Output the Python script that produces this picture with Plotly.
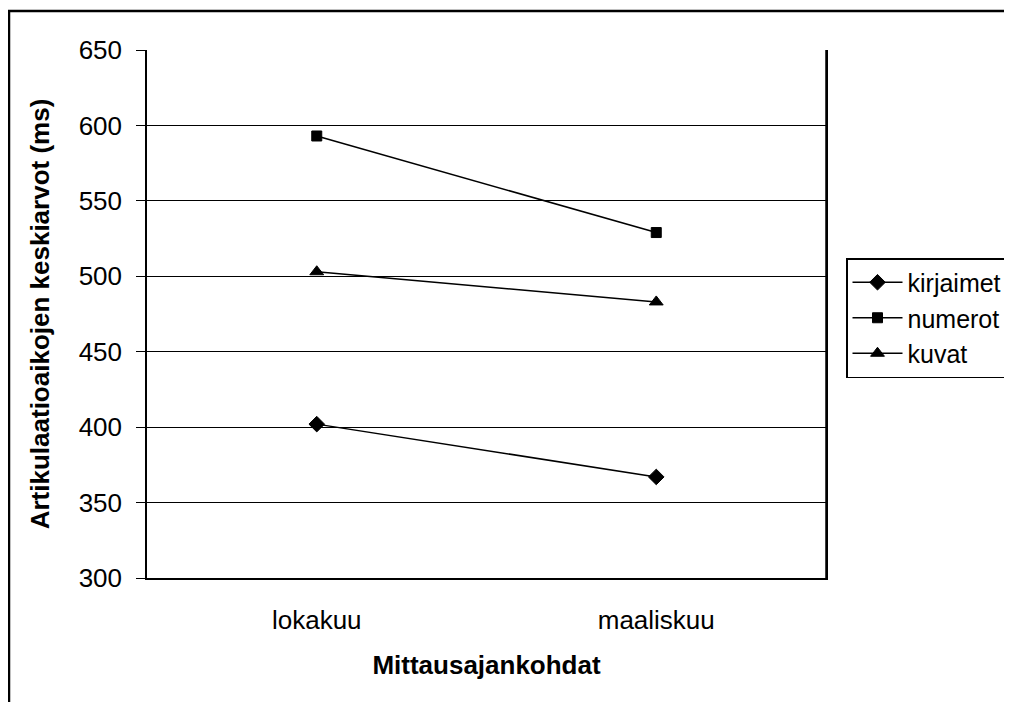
import plotly.graph_objects as go

categories = ["lokakuu", "maaliskuu"]
kirjaimet = [402, 367]
numerot = [593, 529]
kuvat = [503, 483]
y_ticks = [300, 350, 400, 450, 500, 550, 600, 650]

OFF = 8  # page body margin
W, H = 1012 - OFF, 702 - OFF
L, R, T, B = 147 - OFF, 826 - OFF, 50 - OFF, 578 - OFF

def px(x):
    return (x - OFF - L) / (R - L)

def py(y):
    return (B - (y - OFF)) / (B - T)

fig = go.Figure()
series = [
    ("kirjaimet", kirjaimet, "diamond", 12),
    ("numerot", numerot, "square", 10),
    ("kuvat", kuvat, "triangle-up", 12),
]
for name, vals, sym, size in series:
    fig.add_trace(go.Scatter(
        x=categories, y=vals, name=name, mode="lines+markers",
        line=dict(color="black", width=1.5),
        marker=dict(symbol=sym, size=size, color="black",
                    line=dict(color="black", width=1)),
    ))

FS = 26
font = dict(family="Liberation Sans, Arial, sans-serif", size=FS, color="black")
lfont = dict(family="Liberation Sans, Arial, sans-serif", size=25, color="black")

fig.update_layout(
    width=W, height=H,
    margin=dict(l=L, r=W - R, t=T, b=H - B, autoexpand=False),
    paper_bgcolor="white", plot_bgcolor="white",
    font=font,
    showlegend=True,
    legend=dict(
        x=px(846), y=py(258), xanchor="left", yanchor="top",
        bordercolor="black", borderwidth=1.5,
        font=lfont, tracegroupgap=0, itemwidth=50,
    ),
    xaxis=dict(
        type="category", range=[-0.5, 1.5],
        showline=True, linecolor="black", linewidth=2, mirror=False,
        showgrid=False, ticks="", ticklen=0, ticklabelstandoff=18,
        tickfont=font,
        title=dict(text="<b>Mittausajankohdat</b>", font=font, standoff=22),
    ),
    yaxis=dict(
        range=[300, 650], tickvals=y_ticks,
        showline=True, linecolor="black", linewidth=1.5, mirror=True,
        showgrid=True, gridcolor="black", gridwidth=1,
        ticks="outside", ticklen=9, tickcolor="black", ticklabelstandoff=9,
        tickfont=font, zeroline=False,
        title=dict(text="<b>Artikulaatioaikojen keskiarvot (ms)</b>", font=font, standoff=22),
    ),
    shapes=[
        dict(type="line", xref="paper", yref="paper",
             x0=px(9), x1=px(9), y0=py(720), y1=py(11),
             line=dict(color="black", width=2.5)),
        dict(type="line", xref="paper", yref="paper",
             x0=px(8), x1=px(1030), y0=py(11), y1=py(11),
             line=dict(color="black", width=2.5)),
        dict(type="line", xref="paper", yref="paper",
             x0=1, x1=1, y0=0, y1=1,
             line=dict(color="black", width=1.5)),
    ],
)

fig.write_html("out.html")
